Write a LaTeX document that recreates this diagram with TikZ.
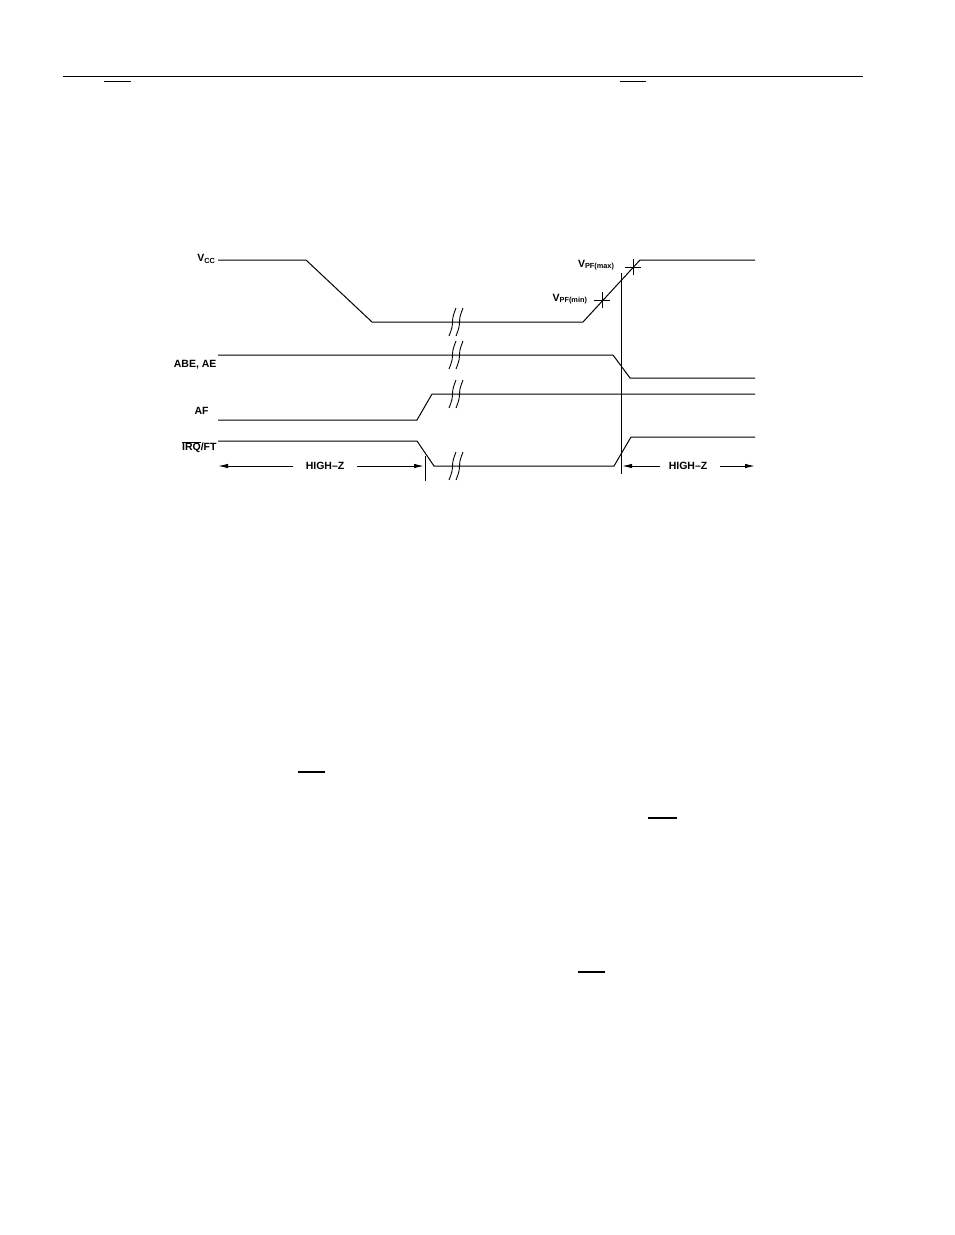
\documentclass[tikz,border=0pt]{standalone}
\usepackage{fontspec}
\setmainfont{Liberation Sans}
\usetikzlibrary{arrows.meta}
\def\brk(#1,#2){\draw[line width=0.9pt] (#1-7,#2+14) to[out=70,in=-90] (#1-3.5,#2) to[out=90,in=-110] (#1,#2-14);
	\draw[line width=0.9pt] (#1,#2+14) to[out=70,in=-90] (#1+3.5,#2) to[out=90,in=-110] (#1+7,#2-14);}
\def\crs(#1,#2){\draw[line width=0.9pt] (#1-8,#2) -- (#1+8,#2) (#1,#2-8) -- (#1,#2+8);}

\begin{document}
\begin{tikzpicture}[x=1pt, y=-1pt, line width=1pt,
	lbl/.style={anchor=east, inner sep=0pt, font=\fontsize{10.5}{12}\selectfont\bfseries},
	hz/.style={inner sep=0pt, font=\fontsize{10.5}{12}\selectfont\bfseries},
	tip/.style={-{Latex[length=10pt,width=4.5pt]}}]
		%%%%% START %%%%%
		\useasboundingbox (0,0) rectangle (954,1235);
		
		\draw[line width=1.6pt] (63,76.5) -- (863,76.5);
		\draw[line width=1.4pt] (104,81.5) -- (131,81.5);
		\draw[line width=1.4pt] (620,81.5) -- (646,81.5);
		
		\node[lbl] (vcc) at (216,259) {V\textsubscript{CC}};
		\node[lbl] (abe) at (217,365) {ABE, AE};
		\node[lbl] (af) at (209,411) {AF};
		\node[lbl] (irq) at (217,447) {$\overline{\mbox{IRQ}}$/FT};
		
		\draw (218,260) -- (306,260) -- (372,322) -- (583,322) -- (640,260) -- (755,260);
		\draw (218,355) -- (613,355) -- (630,378) -- (755,378);
		\draw (218,420) -- (417,420) -- (432,394) -- (755,394);
		\draw (218,441) -- (417,441) -- (434,466) -- (614,466) -- (631,437) -- (755,437);
		
		\brk(456,322)
		\brk(456,355)
		\brk(456,394)
		\brk(456,466)
		
		\crs(602,300)
		\crs(633,267)
		\node[lbl] (pfmin) at (588,299) {V\textsubscript{PF(min)}};
		\node[lbl] (pfmax) at (615,265) {V\textsubscript{PF(max)}};
		
		\draw (621,273) -- (621,474);
		\draw (425,456) -- (425,481);
		
		\node[hz] (hzl) at (325,466) {HIGH--Z};
		\node[hz] (hzr) at (688,466) {HIGH--Z};
		\coordinate (l0) at (218,466);
		\coordinate (l1) at (424,466);
		\coordinate (r0) at (622,466);
		\coordinate (r1) at (755,466);
		\draw[tip] (hzl.west) ++(-12,0) -- (l0);
		\draw[tip] (hzl.east) ++(12,0) -- (l1);
		\draw[tip] (hzr.west) ++(-8,0) -- (r0);
		\draw[tip] (hzr.east) ++(12,0) -- (r1);
		
		\draw[line width=1.4pt] (298,772) -- (325,772);
		\draw[line width=1.4pt] (648,818) -- (677,818);
		\draw[line width=1.4pt] (578,972) -- (605,972);
		
		%%%%% END %%%%%
	\end{tikzpicture}
\end{document}
